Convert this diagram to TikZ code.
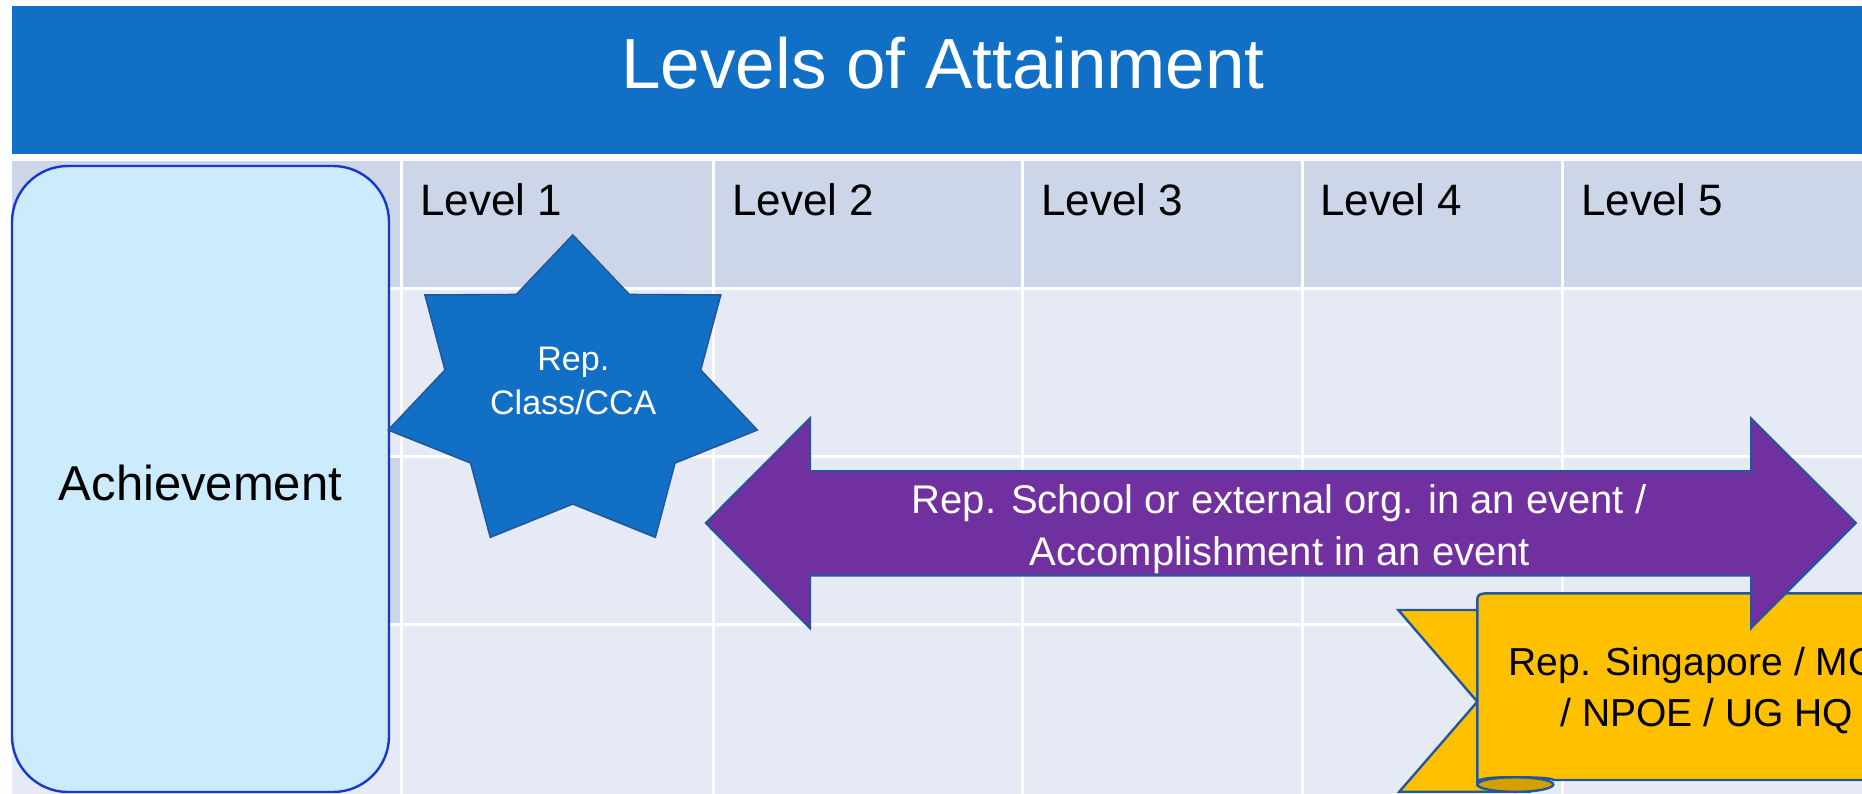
\documentclass[tikz,border=0pt]{standalone}
\usepackage{fontspec}
\setmainfont{Liberation Sans}
\definecolor{bannerblue}{HTML}{1170C5}
\definecolor{headcell}{HTML}{CDD5E8}
\definecolor{bodycell}{HTML}{E6EAF4}
\definecolor{achfill}{HTML}{CCEBFD}
\definecolor{achline}{HTML}{1438D0}
\definecolor{starfill}{HTML}{1170C5}
\definecolor{shapeline}{HTML}{22589A}
\definecolor{arrowfill}{HTML}{7030A0}
\definecolor{ribbonfill}{HTML}{FFC000}
\definecolor{ribbondark}{HTML}{D4A000}
\tikzset{
  titletext/.style={text=white, font=\fontsize{35.5pt}{40pt}\selectfont, inner sep=0pt, anchor=base},
  leveltext/.style={text=black, font=\fontsize{22pt}{26pt}\selectfont, inner sep=0pt, anchor=base west},
  achtext/.style={text=black, font=\fontsize{24.5pt}{28pt}\selectfont, inner sep=0pt, anchor=base},
  startext/.style={text=white, font=\fontsize{17pt}{20pt}\selectfont, inner sep=0pt, anchor=base},
  arrowtext/.style={text=white, font=\fontsize{20pt}{24pt}\selectfont, inner sep=0pt, anchor=base},
  ribbontext/.style={text=black, font=\fontsize{19.5pt}{24pt}\selectfont, inner sep=0pt, anchor=base},
  gridline/.style={draw=white, line width=1.5pt},
  achbox/.style={fill=achfill, draw=achline, line width=1.2pt, rounded corners=28pt},
  starshape/.style={fill=starfill, draw=shapeline, line width=0.8pt, line join=miter},
  arrowshape/.style={fill=arrowfill, draw=shapeline, line width=1pt, line join=miter},
  ribbonshape/.style={fill=ribbonfill, draw=shapeline, line width=1.2pt, line join=miter},
}
\begin{document}
\begin{tikzpicture}[x=0.5pt,y=-0.5pt]
\useasboundingbox (0,0) rectangle (1862,793);
\clip (0,0) rectangle (1862,793);
\fill[white] (0,0) rectangle (1862,793);
% title banner
\fill[bannerblue] (12,6) rectangle (1880,154);
\node[titletext] (title) at (943,88) {Levels of Attainment};
% table
\fill[bodycell] (12,161) rectangle (1880,800);
\fill[headcell] (12,161) rectangle (1880,288);
\fill[headcell] (12,456) rectangle (401,624);
\foreach \cx in {401,713,1022,1302,1562} {
  \draw[gridline] (\cx,161) -- (\cx,800);
}
\foreach \ry in {288,456,624} {
  \draw[gridline] (12,\ry) -- (1880,\ry);
}
\node[leveltext] (lv1) at (420,215) {Level 1};
\node[leveltext] (lv2) at (732,215) {Level 2};
\node[leveltext] (lv3) at (1041,215) {Level 3};
\node[leveltext] (lv4) at (1320,215) {Level 4};
\node[leveltext] (lv5) at (1581,215) {Level 5};
% achievement box
\draw[achbox] (12,166) rectangle (389,792);
\node[achtext] (ach) at (200.5,500) {Achievement};
% seven-point star
\draw[starshape] (572.8,235) -- (629.3,294.5) -- (720.7,295) -- (700.7,370)
  -- (757.3,430) -- (675,463) -- (655.3,537.3) -- (572.8,504)
  -- (490.3,537.3) -- (470.6,463) -- (388.3,430) -- (445,370)
  -- (425,295) -- (516.3,294.5) -- cycle;
\node[startext] (star1) at (573.3,370) {Rep.};
\node[startext] (star2) at (573.3,414.3) {Class/CCA};
% ribbon
\draw[ribbonshape] (1398.3,610) -- (1530,610) -- (1530,791.7) -- (1399.3,791.7)
  -- (1477.3,701.7) -- cycle;
\draw[ribbonshape, fill=ribbondark] (1515.3,784.5) ellipse [x radius=38, y radius=7.3];
\draw[ribbonshape] (1553.3,780) -- (1880,780) -- (1880,593.3) -- (1488,593.3)
  .. controls (1480,593.3) and (1477.3,595) .. (1477.3,599) -- (1477.3,782)
  .. controls (1477.3,779) and (1490,777) .. (1515.3,777.2)
  .. controls (1540,777.2) and (1553.3,778.5) .. (1553.3,780) -- cycle;
\node[ribbontext] (rib1) at (1706.7,675) {Rep. Singapore / MOE};
\node[ribbontext] (rib2) at (1706.7,726.7) {/ NPOE / UG HQ};
% double arrow
\draw[arrowshape] (705.7,523) -- (810,418.3) -- (810,471) -- (1751,471)
  -- (1751,418.3) -- (1856,523) -- (1751,628.3) -- (1751,575.7)
  -- (810,575.7) -- (810,628.3) -- cycle;
\node[arrowtext] (arr1) at (1279,513) {Rep. School or external org. in an event /};
\node[arrowtext] (arr2) at (1280,565) {Accomplishment in an event};
\end{tikzpicture}
\end{document}
